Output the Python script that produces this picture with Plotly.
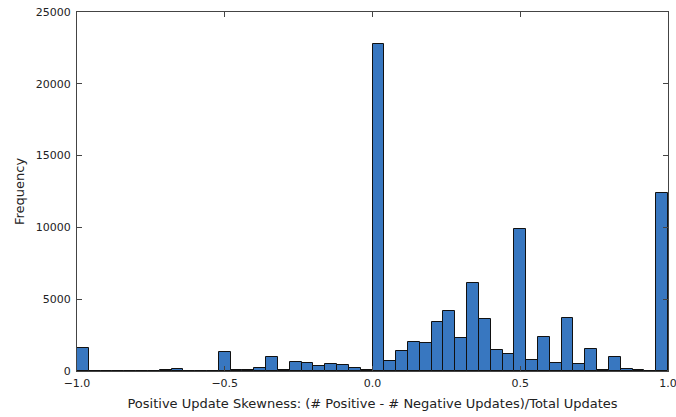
import plotly.graph_objects as go

# Histogram: 50 bins of width 0.04 from -1 to 1
bin_start = -1.0
bin_width = 0.04
counts = [
    1600, 10, 10, 15, 20, 25, 30, 40,   # -1.00 .. -0.72
    150, 10, 20, 10, 1300, 40, 60,      # -0.68 .. -0.44
    180, 950, 90, 620, 560, 380, 480, 420, 230, 40,  # -0.40 .. -0.04
    22800, 700, 1420, 2050, 1980, 3420, 4200, 2280, 6100, 3620,  # 0.00 .. 0.36
    1480, 1170, 9920, 770, 2400, 580, 3660, 520, 1540, 90,        # 0.40 .. 0.76
    1000, 170, 40, 15, 12380,                                      # 0.80 .. 0.96
]
bin_lefts = [bin_start + i * bin_width for i in range(len(counts))]

x_ticks = [-1.0, -0.5, 0.0, 0.5, 1.0]
x_ticktext = ["\u22121.0", "\u22120.5", "0.0", "0.5", "1.0"]
y_ticks = [0, 5000, 10000, 15000, 20000, 25000]

fig = go.Figure(
    go.Bar(
        x=bin_lefts,
        y=counts,
        width=bin_width,
        offset=0,
        marker=dict(color="#3877C0", line=dict(color="#111111", width=1)),
    )
)

axis_common = dict(
    showline=True,
    linecolor="#444444",
    linewidth=1,
    mirror="ticks",
    ticks="inside",
    ticklen=5,
    tickcolor="#444444",
    showgrid=False,
    zeroline=False,
    automargin=False,
    ticklabeloverflow="allow",
    tickfont=dict(family="DejaVu Sans", size=11, color="#222222"),
)

fig.update_layout(
    width=676,
    height=417,
    margin=dict(l=77, r=8, t=12, b=46),
    plot_bgcolor="white",
    paper_bgcolor="white",
    showlegend=False,
    bargap=0,
    font=dict(family="DejaVu Sans", size=11, color="#222222"),
    xaxis=dict(
        range=[-1.0, 1.0],
        tickvals=x_ticks,
        ticktext=x_ticktext,
        ticklabelstandoff=2,
        title=dict(text="Positive Update Skewness: (# Positive - # Negative Updates)/Total Updates",
                   font=dict(size=13), standoff=9),
        **axis_common,
    ),
    yaxis=dict(
        range=[0, 25000],
        tickvals=y_ticks,
        ticktext=[str(v) for v in y_ticks],
        ticklabelstandoff=3,
        title=dict(text="Frequency", font=dict(size=13), standoff=8),
        **axis_common,
    ),
)

fig.write_html("out.html", config={"displayModeBar": False})

# remove default browser body margin so the figure sits at the page origin
with open("out.html", "r", encoding="utf-8") as f:
    html = f.read()
html = html.replace("<head>", "<head><style>html,body{margin:0;padding:0;overflow:hidden;}</style>", 1)
with open("out.html", "w", encoding="utf-8") as f:
    f.write(html)
